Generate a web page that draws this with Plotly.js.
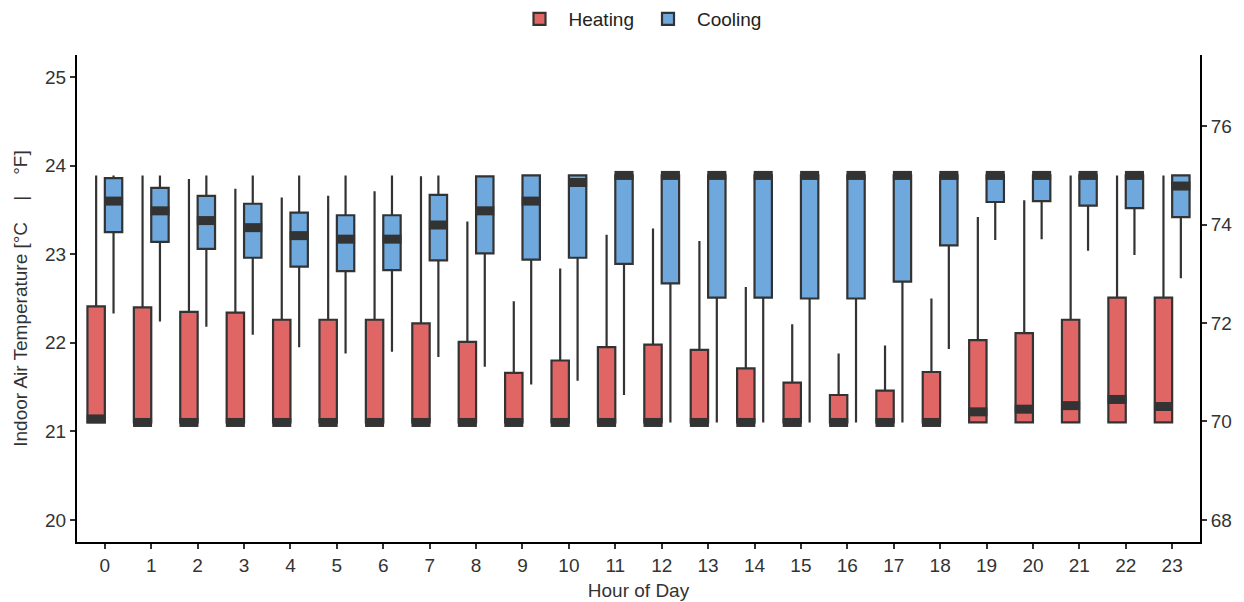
<!DOCTYPE html>
<html>
<head>
<meta charset="utf-8">
<script src="https://cdn.plot.ly/plotly-3.0.1.min.js"></script>
<style>
  html, body { margin: 0; padding: 0; background: #fff; }
  #boxPlot_temp { width: 1244px; height: 602px; }
</style>
</head>
<body>
<div id="boxPlot_temp"></div>
<script>
// hour of day
let hours = [0, 1, 2, 3, 4, 5, 6, 7, 8, 9, 10, 11, 12, 13, 14, 15, 16, 17, 18, 19, 20, 21, 22, 23];

// heating setpoint boxes [°C]
let heat_low = [21.1, 21.1, 21.1, 21.1, 21.1, 21.1, 21.1, 21.1, 21.1, 21.1, 21.1, 21.1, 21.1, 21.1, 21.1, 21.1, 21.1, 21.1, 21.1, 21.1, 21.1, 21.1, 21.1, 21.1];
let heat_q1 = [21.1, 21.1, 21.1, 21.1, 21.1, 21.1, 21.1, 21.1, 21.1, 21.1, 21.1, 21.1, 21.1, 21.1, 21.1, 21.1, 21.1, 21.1, 21.1, 21.1, 21.1, 21.1, 21.1, 21.1];
let heat_med = [21.14, 21.1, 21.1, 21.1, 21.1, 21.1, 21.1, 21.1, 21.1, 21.1, 21.1, 21.1, 21.1, 21.1, 21.1, 21.1, 21.1, 21.1, 21.1, 21.22, 21.25, 21.29, 21.36, 21.28];
let heat_q3 = [22.41, 22.4, 22.35, 22.34, 22.26, 22.26, 22.26, 22.22, 22.01, 21.66, 21.8, 21.95, 21.98, 21.92, 21.71, 21.55, 21.41, 21.46, 21.67, 22.03, 22.11, 22.26, 22.51, 22.51];
let heat_high = [23.89, 23.89, 23.85, 23.74, 23.64, 23.66, 23.71, 23.88, 23.37, 22.47, 22.84, 23.22, 23.29, 23.15, 22.63, 22.21, 21.88, 21.97, 22.5, 23.42, 23.61, 23.89, 23.89, 23.89];

// cooling setpoint boxes [°C]
let cool_low = [22.33, 22.24, 22.18, 22.09, 21.95, 21.88, 21.9, 21.84, 21.73, 21.53, 21.57, 21.41, 21.1, 21.1, 21.1, 21.1, 21.1, 21.1, 21.93, 23.16, 23.17, 23.04, 22.99, 22.73];
let cool_q1 = [23.25, 23.14, 23.06, 22.96, 22.86, 22.81, 22.82, 22.93, 23.01, 22.94, 22.96, 22.89, 22.67, 22.51, 22.51, 22.5, 22.5, 22.69, 23.1, 23.59, 23.6, 23.55, 23.52, 23.42];
let cool_med = [23.6, 23.49, 23.38, 23.3, 23.21, 23.17, 23.17, 23.33, 23.49, 23.6, 23.81, 23.89, 23.89, 23.89, 23.89, 23.89, 23.89, 23.89, 23.89, 23.89, 23.89, 23.89, 23.89, 23.77];
let cool_q3 = [23.86, 23.75, 23.66, 23.57, 23.47, 23.44, 23.44, 23.67, 23.88, 23.89, 23.89, 23.89, 23.89, 23.89, 23.89, 23.89, 23.89, 23.89, 23.89, 23.89, 23.89, 23.89, 23.89, 23.89];
let cool_high = [23.89, 23.89, 23.89, 23.89, 23.89, 23.89, 23.89, 23.89, 23.89, 23.89, 23.89, 23.89, 23.89, 23.89, 23.89, 23.89, 23.89, 23.89, 23.89, 23.89, 23.89, 23.89, 23.89, 23.89];

let tick_c = [20, 21, 22, 23, 24, 25];
let tick_f = [68, 70, 72, 74, 76];

var toF = function (c) {
  return c * 1.8 + 32;
};

var cb_boxPlot_temp = function () {
  let dodge = 0.1875; // half of the dodge width
  let bw = 0.375;
  let x_heat = hours.map((h) => h - dodge);
  let x_cool = hours.map((h) => h + dodge);
  let edge = "#333333";

  let trace1 = {
    type: "box",
    name: "Heating",
    x: x_heat,
    q1: heat_q1,
    median: heat_med,
    q3: heat_q3,
    lowerfence: heat_low,
    upperfence: heat_high,
    width: bw,
    whiskerwidth: 0,
    fillcolor: "#E06666",
    line: { color: edge, width: 2.2 },
    hoverinfo: "skip",
  };

  let trace2 = {
    type: "box",
    name: "Cooling",
    x: x_cool,
    q1: cool_q1,
    median: cool_med,
    q3: cool_q3,
    lowerfence: cool_low,
    upperfence: cool_high,
    width: bw,
    whiskerwidth: 0,
    fillcolor: "#6FA8DC",
    line: { color: edge, width: 2.2 },
    hoverinfo: "skip",
  };

  // thick median bars (ggplot style)
  let med_marker = { symbol: "line-ew", size: 13.6, line: { color: edge, width: 9 } };

  let trace3 = {
    type: "scatter",
    mode: "markers",
    x: x_heat,
    y: heat_med,
    showlegend: false,
    hoverinfo: "skip",
    marker: med_marker,
  };

  let trace4 = {
    type: "scatter",
    mode: "markers",
    x: x_cool,
    y: cool_med,
    showlegend: false,
    hoverinfo: "skip",
    marker: med_marker,
  };

  // invisible trace so the °F axis gets drawn
  let trace5 = {
    type: "scatter",
    mode: "markers",
    x: hours,
    y: heat_q1.map(toF),
    yaxis: "y2",
    showlegend: false,
    hoverinfo: "skip",
    marker: { opacity: 0 },
  };

  let data = [trace1, trace2, trace3, trace4, trace5];

  let fam = "Liberation Sans, Arial, sans-serif";
  let txt = "#333333";

  let layout = {
    width: 1244,
    height: 602,
    autosize: false,
    margin: { l: 77, r: 44, b: 60, t: 55, pad: 0, autoexpand: false },
    paper_bgcolor: "#ffffff",
    plot_bgcolor: "#ffffff",
    font: { family: fam, size: 19, color: txt },
    // Legende
    showlegend: true,
    legend: {
      orientation: "h",
      x: 0.5,
      xanchor: "center",
      y: 1.074,
      yanchor: "middle",
      itemwidth: 48,
      font: { family: fam, size: 19, color: "#222222" },
    },
    boxmode: "overlay",

    xaxis: {
      range: [-0.6, 23.6],
      tickvals: hours,
      ticktext: hours.map(String),
      showgrid: false,
      zeroline: false,
      showline: true,
      linecolor: "#000000",
      linewidth: 2,
      ticks: "outside",
      ticklen: 5,
      tickwidth: 2,
      tickcolor: txt,
      tickfont: { size: 19, color: txt },
      title: { text: "Hour of Day", font: { size: 19, color: txt }, standoff: 9 },
    },
    yaxis: {
      range: [19.75, 25.25],
      tickvals: tick_c,
      showgrid: false,
      zeroline: false,
      showline: true,
      linecolor: "#000000",
      linewidth: 2,
      ticks: "outside",
      ticklen: 5,
      tickwidth: 2,
      tickcolor: txt,
      tickfont: { size: 19, color: txt },
      title: {
        text: "Indoor Air Temperature [°C\u00a0\u00a0\u00a0\u00a0|\u00a0\u00a0\u00a0\u00a0°F]",
        font: { size: 19, color: txt },
        standoff: 12,
      },
    },
    yaxis2: {
      overlaying: "y",
      side: "right",
      anchor: "x",
      range: [toF(19.75), toF(25.25)],
      tickvals: tick_f,
      showgrid: false,
      zeroline: false,
      showline: true,
      linecolor: "#000000",
      linewidth: 2,
      ticks: "outside",
      ticklen: 5,
      tickwidth: 2,
      tickcolor: txt,
      tickfont: { size: 19, color: txt },
    },
  };
  // end layout

  let config = {
    responsive: false,
    displayModeBar: false,
    displaylogo: false,
  };

  Plotly.newPlot("boxPlot_temp", data, layout, config);
};

if (document.readyState === "complete" || document.readyState !== "loading") {
  cb_boxPlot_temp();
} else {
  document.addEventListener("DOMContentLoaded", cb_boxPlot_temp);
}
</script>
</body>
</html>
